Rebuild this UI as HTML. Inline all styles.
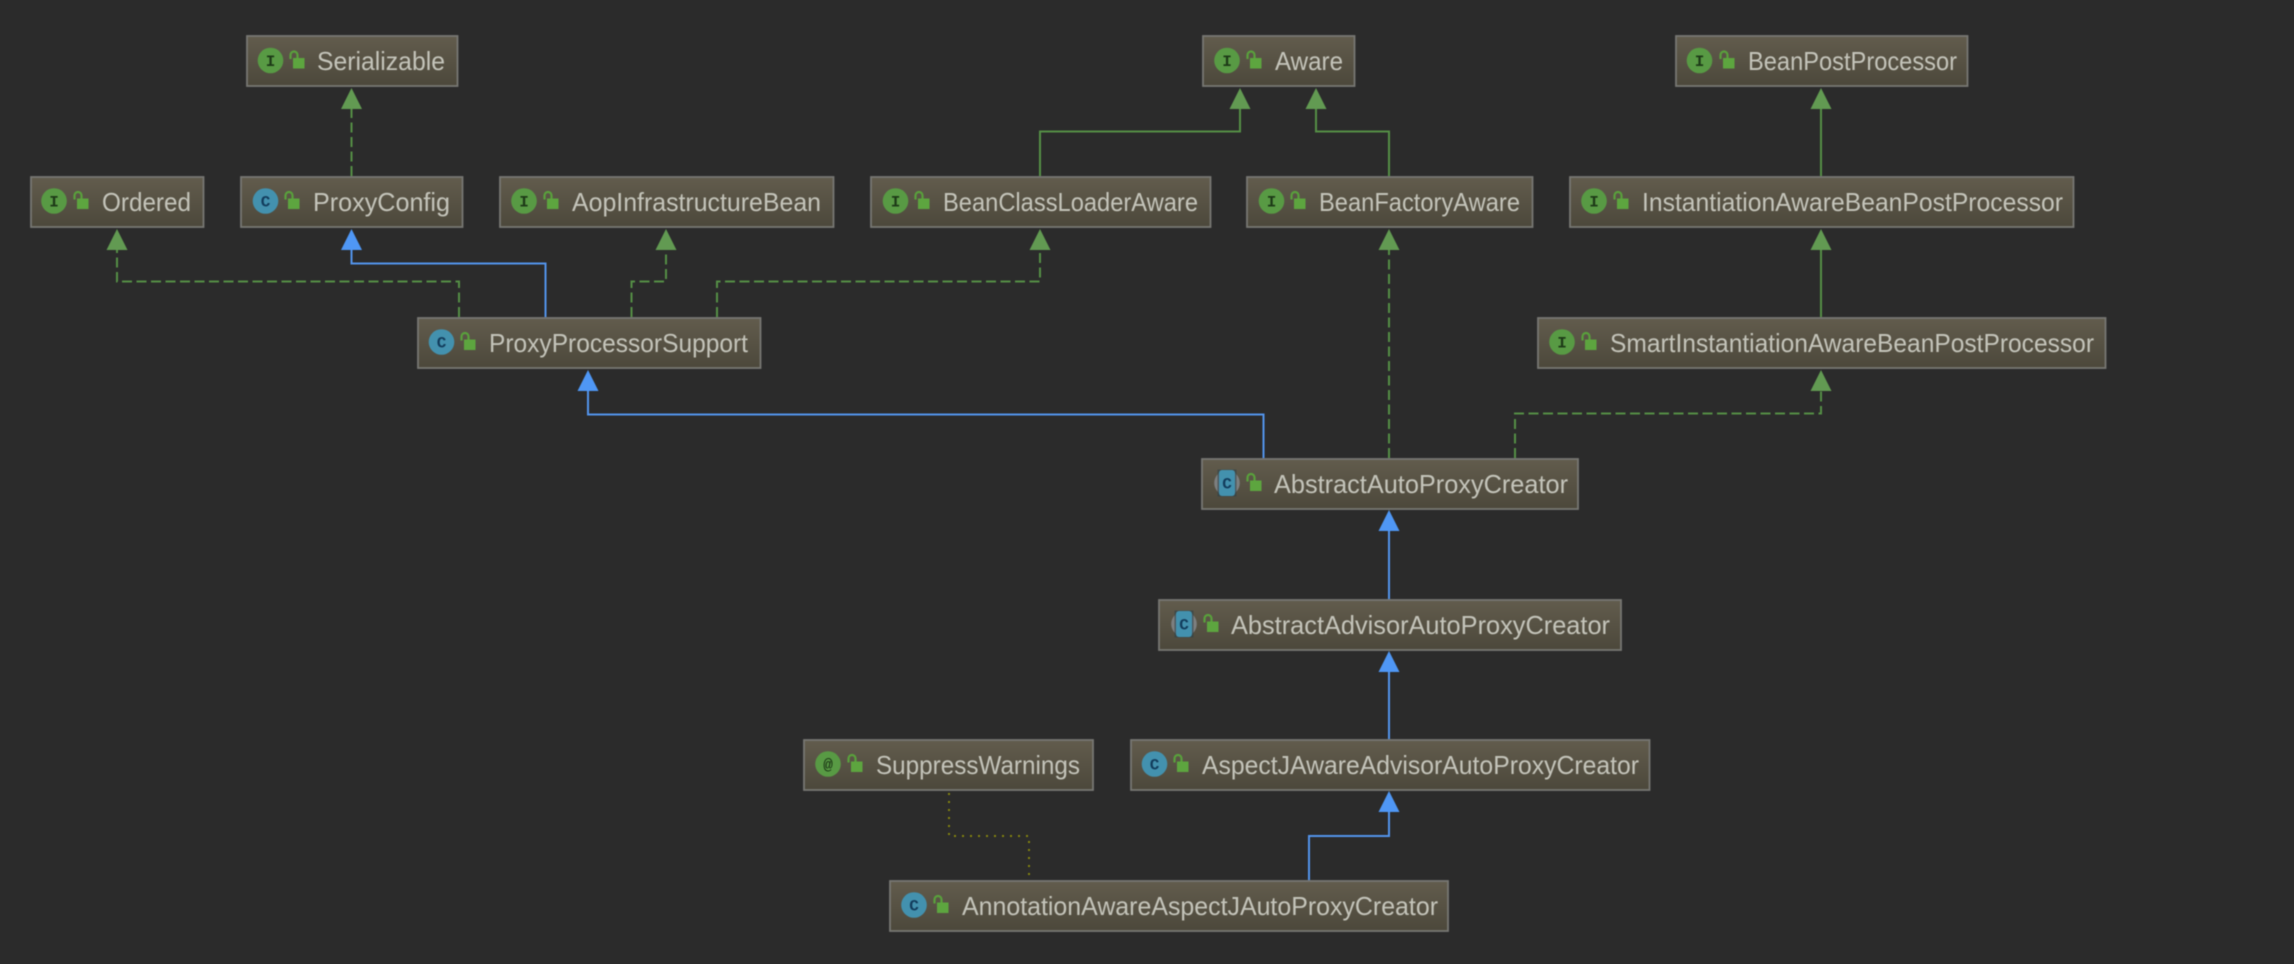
<!DOCTYPE html>
<html><head><meta charset="utf-8"><style>
html,body{margin:0;padding:0;background:#2b2b2b;width:2294px;height:964px;overflow:hidden}
svg{display:block}
#all{filter:blur(.55px)}
text{font-family:"Liberation Sans",sans-serif}
.n{font-size:26px;fill:#c4c4ba}
.b rect.f{fill:url(#g);stroke:#777773;stroke-width:1.8}
.l{fill:none;stroke-width:2}
.gs{stroke:#558f46}.gd{stroke:#558f46;stroke-dasharray:10 4.5}.bl{stroke:#5394ec}
.dot{fill:none;stroke:#85850f;stroke-width:2;stroke-dasharray:2 6}
.ag{fill:#629a52}.ab{fill:#4f97f5}
.ic{font-size:16px;font-weight:bold;text-anchor:middle;font-family:"Liberation Mono",monospace}
</style></head><body>
<svg xmlns="http://www.w3.org/2000/svg" width="2294" height="964" viewBox="0 0 2294 964">
<defs>
<linearGradient id="g" x1="0" y1="0" x2="0" y2="1"><stop offset="0" stop-color="#625c4d"/><stop offset="1" stop-color="#4c483b"/></linearGradient>
<g id="lock"><path d="M-5.500 -2 V-6 a3.500 3.500 0 0 1 7 0 V-2" fill="none" stroke="#59a13c" stroke-width="2.200"/><rect x="-3" y="-3" width="11.500" height="10.500" fill="#5da53f"/></g>
<g id="I"><circle r="12.800" fill="#589a44"/><text class="ic" y="5.500" fill="#1d3a17">I</text></g>
<g id="C"><circle r="12.800" fill="#4391ae"/><text class="ic" y="5.500" fill="#123c5c">C</text></g>
<g id="A"><circle r="12.800" fill="#589a44"/><text class="ic" y="5.500" fill="#1d3a17">@</text></g>
<g id="Z"><circle r="12.800" fill="#7d7f80"/><rect x="-9.500" y="-13.500" width="19" height="27" fill="#2f3f46" opacity=".6"/><rect x="-8" y="-13" width="16" height="26" rx="3" fill="#4391ae"/><text class="ic" y="5.500" fill="#123c5c">C</text></g>
<polygon id="tip" points="0,0 10.500,21 -10.500,21"/>
</defs>
<rect width="2294" height="964" fill="#2b2b2b"/>
<g id="all">
<!-- connectors -->
<path class="l gd" d="M351.500 176V108"/>
<path class="l gd" d="M459 317V281.500H117V249"/>
<path class="l bl" d="M545.500 317V263.500H351.500V249"/>
<path class="l gd" d="M631.500 317V281.500H666V249"/>
<path class="l gd" d="M717 317V281.500H1040V249"/>
<path class="l gs" d="M1040 176V131.500H1240V108"/>
<path class="l gs" d="M1389 176V131.500H1316V108"/>
<path class="l gd" d="M1389 458V249"/>
<path class="l gs" d="M1821 176V108"/>
<path class="l gs" d="M1821 317V249"/>
<path class="l gd" d="M1515 458V413.500H1821V391"/>
<path class="l bl" d="M1263.500 458V414.500H588V391"/>
<path class="l bl" d="M1389 599V531"/>
<path class="l bl" d="M1389 739V671"/>
<path class="l bl" d="M1309 880V836H1389V812"/>
<path class="dot" d="M949 793V836H1029V880"/>

<!-- arrowheads -->
<use href="#tip" class="ag" x="351.500" y="88"/>
<use href="#tip" class="ag" x="117" y="229"/>
<use href="#tip" class="ab" x="351.500" y="229"/>
<use href="#tip" class="ag" x="666" y="229"/>
<use href="#tip" class="ag" x="1040" y="229"/>
<use href="#tip" class="ag" x="1240" y="88"/>
<use href="#tip" class="ag" x="1316" y="88"/>
<use href="#tip" class="ag" x="1389" y="229"/>
<use href="#tip" class="ag" x="1821" y="88"/>
<use href="#tip" class="ag" x="1821" y="229"/>
<use href="#tip" class="ag" x="1821" y="370"/>
<use href="#tip" class="ab" x="588" y="370"/>
<use href="#tip" class="ab" x="1389" y="510"/>
<use href="#tip" class="ab" x="1389" y="651"/>
<use href="#tip" class="ab" x="1389" y="791"/>

<!-- nodes -->
<g class="b">
<rect class="f" x="247" y="36" width="210.500" height="50"/><use href="#I" x="270.500" y="60.500"/><use href="#lock" x="296" y="61"/><text class="n" x="317" y="70" textLength="128" lengthAdjust="spacingAndGlyphs">Serializable</text>
<rect class="f" x="31" y="177" width="172.500" height="50"/><use href="#I" x="54" y="201"/><use href="#lock" x="80" y="201.500"/><text class="n" x="102" y="211" textLength="89" lengthAdjust="spacingAndGlyphs">Ordered</text>
<rect class="f" x="241" y="177" width="221.500" height="50"/><use href="#C" x="265.500" y="201"/><use href="#lock" x="291" y="201.500"/><text class="n" x="313" y="211" textLength="137" lengthAdjust="spacingAndGlyphs">ProxyConfig</text>
<rect class="f" x="500" y="177" width="333.500" height="50"/><use href="#I" x="524" y="201"/><use href="#lock" x="550" y="201.500"/><text class="n" x="572" y="211" textLength="249" lengthAdjust="spacingAndGlyphs">AopInfrastructureBean</text>
<rect class="f" x="871" y="177" width="339.500" height="50"/><use href="#I" x="895.500" y="201"/><use href="#lock" x="921" y="201.500"/><text class="n" x="943" y="211" textLength="255" lengthAdjust="spacingAndGlyphs">BeanClassLoaderAware</text>
<rect class="f" x="1247" y="177" width="285.500" height="50"/><use href="#I" x="1271.500" y="201"/><use href="#lock" x="1297" y="201.500"/><text class="n" x="1319" y="211" textLength="201" lengthAdjust="spacingAndGlyphs">BeanFactoryAware</text>
<rect class="f" x="1203" y="36" width="151.500" height="50"/><use href="#I" x="1227" y="60.500"/><use href="#lock" x="1253" y="61"/><text class="n" x="1275" y="70" textLength="68" lengthAdjust="spacingAndGlyphs">Aware</text>
<rect class="f" x="1676" y="36" width="291.500" height="50"/><use href="#I" x="1699.500" y="60.500"/><use href="#lock" x="1726" y="61"/><text class="n" x="1748" y="70" textLength="209" lengthAdjust="spacingAndGlyphs">BeanPostProcessor</text>
<rect class="f" x="1570" y="177" width="503.500" height="50"/><use href="#I" x="1594" y="201"/><use href="#lock" x="1620" y="201.500"/><text class="n" x="1642" y="211" textLength="421" lengthAdjust="spacingAndGlyphs">InstantiationAwareBeanPostProcessor</text>
<rect class="f" x="1538" y="318" width="567.500" height="50"/><use href="#I" x="1562" y="342"/><use href="#lock" x="1588" y="342.500"/><text class="n" x="1610" y="352" textLength="484" lengthAdjust="spacingAndGlyphs">SmartInstantiationAwareBeanPostProcessor</text>
<rect class="f" x="418" y="318" width="342.500" height="50"/><use href="#C" x="441.500" y="342"/><use href="#lock" x="467" y="342.500"/><text class="n" x="489" y="352" textLength="259" lengthAdjust="spacingAndGlyphs">ProxyProcessorSupport</text>
<rect class="f" x="1202" y="459" width="376" height="50"/><use href="#Z" x="1227" y="483"/><use href="#lock" x="1253" y="483.500"/><text class="n" x="1274" y="493" textLength="294" lengthAdjust="spacingAndGlyphs">AbstractAutoProxyCreator</text>
<rect class="f" x="1159" y="600" width="462" height="50"/><use href="#Z" x="1184" y="624"/><use href="#lock" x="1210" y="624.500"/><text class="n" x="1231" y="634" textLength="379" lengthAdjust="spacingAndGlyphs">AbstractAdvisorAutoProxyCreator</text>
<rect class="f" x="804" y="740" width="289" height="50"/><use href="#A" x="828" y="764"/><use href="#lock" x="854" y="764.500"/><text class="n" x="876" y="774" textLength="204" lengthAdjust="spacingAndGlyphs">SuppressWarnings</text>
<rect class="f" x="1131" y="740" width="518.500" height="50"/><use href="#C" x="1154.500" y="764"/><use href="#lock" x="1180" y="764.500"/><text class="n" x="1202" y="774" textLength="437" lengthAdjust="spacingAndGlyphs">AspectJAwareAdvisorAutoProxyCreator</text>
<rect class="f" x="890" y="881" width="558" height="50"/><use href="#C" x="914" y="905"/><use href="#lock" x="940" y="905.500"/><text class="n" x="962" y="915" textLength="476" lengthAdjust="spacingAndGlyphs">AnnotationAwareAspectJAutoProxyCreator</text>
</g>
</g>
</svg>
</body></html>
